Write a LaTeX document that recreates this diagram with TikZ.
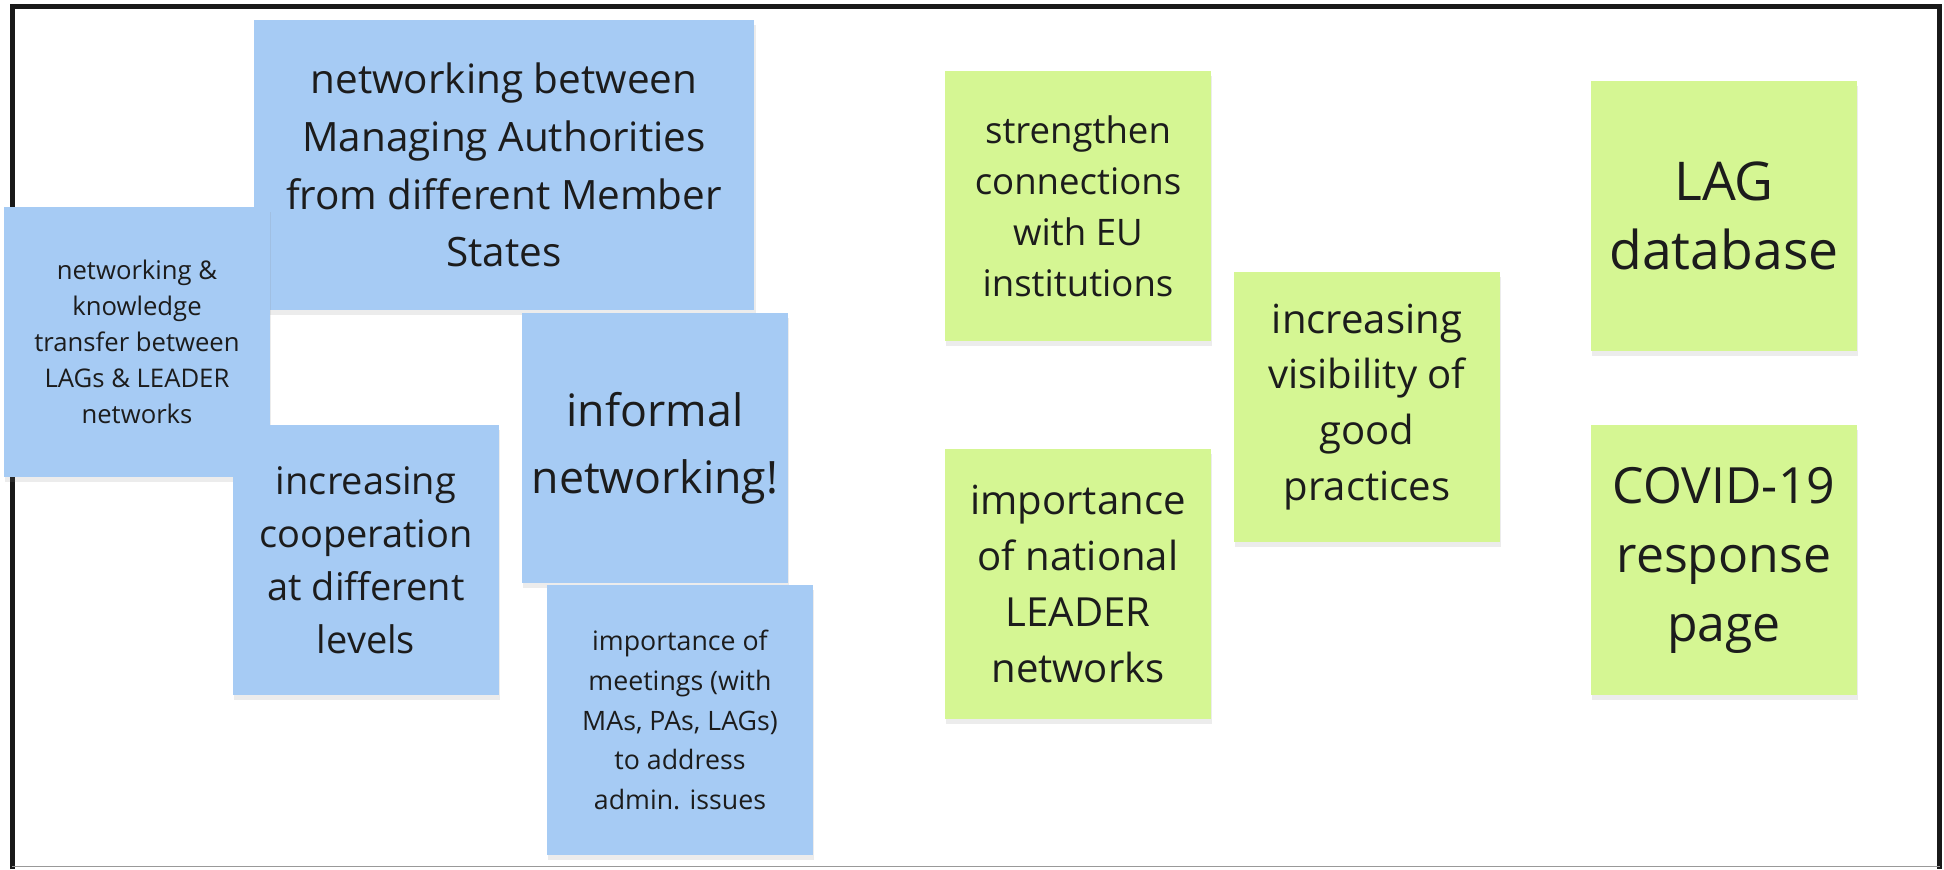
\documentclass[tikz,border=0pt]{standalone}
\usepackage{fontspec}
\setmainfont{Open Sans}
\usetikzlibrary{shadows}
\definecolor{noteblue}{HTML}{A6CBF4}
\definecolor{notegreen}{HTML}{D5F693}
\definecolor{inkgray}{HTML}{1C1C1C}
\newcommand{\notefont}[2]{\fontsize{#1}{#2}\selectfont}
\tikzset{
	sticky/.style={rectangle, inner sep=0pt, align=center, text=inkgray,
		minimum width=2.66cm, minimum height=2.69cm,
		drop shadow={opacity=0.15, shadow xshift=0.4pt, shadow yshift=-1.4pt}},
	bluenote/.style={sticky, fill=noteblue},
	greennote/.style={sticky, fill=notegreen},
	frameedge/.style={line width=1.4pt, color=black!90},
}

\begin{document}
\begin{tikzpicture}[x=0.01cm, y=-0.01cm]
			%%%%% START %%%%%
			
			\useasboundingbox (0, 0) rectangle (1944, 869);
			
			% frame
			\draw[frameedge] (12.5, 869) -- (12.5, 6.5) -- (1939.5, 6.5) -- (1939.5, 869);
			\draw[line width=0.5pt, color=black!40] (12, 866.5) -- (1940, 866.5);
			
			% blue notes
			\node[bluenote, minimum width=5cm, minimum height=2.9cm, font=\notefont{11.5}{16.4}] (authorities) at (504, 165) {networking between\\Managing Authorities\\from different Member\\States};
			\node[bluenote, font=\notefont{7.3}{10.2}] (transfer) at (137, 342) {networking \&\\knowledge\\transfer between\\LAGs \& LEADER\\networks};
			\node[bluenote, font=\notefont{10.8}{15.1}] (cooperation) at (366, 560) {increasing\\cooperation\\at different\\levels};
			\node[bluenote, font=\notefont{12.7}{19}] (informal) at (655, 448) {informal\\networking!};
			\node[bluenote, font=\notefont{7.6}{11.3}] (meetings) at (680, 720) {importance of\\meetings (with\\MAs, PAs, LAGs)\\to address\\admin. issues};
			
			% green notes
			\node[greennote, font=\notefont{10.4}{14.5}] (institutions) at (1078, 206) {strengthen\\connections\\with EU\\institutions};
			\node[greennote, font=\notefont{11.4}{15.9}] (national) at (1078, 584) {importance\\of national\\LEADER\\networks};
			\node[greennote, font=\notefont{11.4}{15.9}] (visibility) at (1367, 407) {increasing\\visibility of\\good\\practices};
			\node[greennote, font=\notefont{15.2}{19.4}] (database) at (1724, 216) {LAG\\database};
			\node[greennote, font=\notefont{14.2}{19.6}] (covid) at (1724, 560) {COVID-19\\response\\page};
			
			%%%%% END %%%%%
\end{tikzpicture}
\end{document}
